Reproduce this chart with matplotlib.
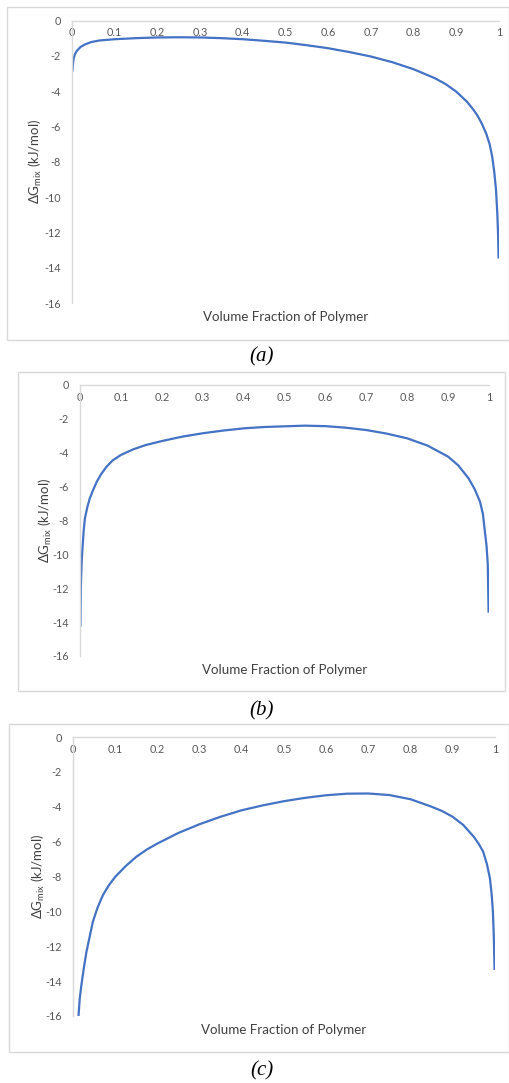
import matplotlib.pyplot as plt
from matplotlib.patches import Rectangle

plt.rcParams['font.family'] = ['Lato', 'DejaVu Sans']
plt.rcParams['mathtext.default'] = 'regular'
plt.rcParams['axes.unicode_minus'] = False

W, H = 510, 1083

# values
phi_a = [0.001, 0.002, 0.004, 0.007, 0.012, 0.02, 0.03, 0.045, 0.065, 0.1, 0.15, 0.2,
         0.25, 0.3, 0.35, 0.4, 0.45, 0.5, 0.55, 0.6, 0.65, 0.7, 0.75, 0.8, 0.85, 0.875,
         0.9, 0.925, 0.94, 0.95, 0.96, 0.97, 0.978, 0.984, 0.989, 0.993, 0.996, 0.998, 0.999]
dg_a = [-2.89, -2.5, -2.15, -1.9, -1.7, -1.5, -1.36, -1.22, -1.13, -1.06, -1.0, -0.96,
        -0.95, -0.96, -1.0, -1.06, -1.15, -1.25, -1.4, -1.57, -1.79, -2.04, -2.36, -2.76,
        -3.27, -3.6, -4.03, -4.6, -5.05, -5.4, -5.85, -6.4, -7.0, -7.7, -8.6, -9.6, -10.9,
        -12.2, -13.48]

phi_b = [0.001, 0.002, 0.004, 0.006, 0.009, 0.012, 0.018, 0.024, 0.032, 0.041, 0.052,
         0.065, 0.08, 0.1, 0.13, 0.16, 0.2, 0.25, 0.3, 0.35, 0.4, 0.45, 0.5, 0.55, 0.6,
         0.65, 0.7, 0.75, 0.8, 0.85, 0.9, 0.925, 0.95, 0.965, 0.978, 0.985, 0.99, 0.994,
         0.997, 0.999]
dg_b = [-14.27, -12.0, -10.5, -9.65, -8.6, -7.87, -7.2, -6.69, -6.2, -5.71, -5.25,
        -4.82, -4.45, -4.13, -3.8, -3.55, -3.31, -3.05, -2.85, -2.69, -2.56, -2.48, -2.44,
        -2.40, -2.43, -2.52, -2.66, -2.87, -3.15, -3.58, -4.23, -4.75, -5.51, -6.15, -6.89,
        -7.6, -8.66, -9.5, -10.6, -13.44]

phi_c = [0.013, 0.016, 0.02, 0.026, 0.032, 0.04, 0.047, 0.058, 0.071, 0.085, 0.1, 0.125,
         0.15, 0.175, 0.2, 0.25, 0.3, 0.35, 0.4, 0.45, 0.5, 0.55, 0.6, 0.65, 0.7, 0.75,
         0.8, 0.85, 0.875, 0.9, 0.925, 0.95, 0.962, 0.972, 0.981, 0.988, 0.992, 0.995,
         0.997, 0.999]
dg_c = [-16.0, -15.0, -14.2, -13.2, -12.3, -11.4, -10.6, -9.8, -9.06, -8.5, -8.02, -7.4,
        -6.87, -6.45, -6.11, -5.5, -5.0, -4.57, -4.2, -3.92, -3.68, -3.49, -3.34, -3.25,
        -3.24, -3.33, -3.57, -4.0, -4.25, -4.58, -5.05, -5.73, -6.15, -6.58, -7.3, -8.11,
        -9.0, -10.0, -11.3, -13.36]

x_ticks = [0, 0.1, 0.2, 0.3, 0.4, 0.5, 0.6, 0.7, 0.8, 0.9, 1]
x_labels = ['0', '0.1', '0.2', '0.3', '0.4', '0.5', '0.6', '0.7', '0.8', '0.9', '1']
y_ticks = [0, -2, -4, -6, -8, -10, -12, -14, -16]
captions = ['(a)', '(b)', '(c)']

panels = [
    # axes l, r, top, bottom ; box l, r, top, bottom ; ylabel x ; caption y
    dict(ax=(72, 499, 20.5, 303), box=(7.5, 509, 6.5, 340), ylx=35, cy=357, x=phi_a, y=dg_a),
    dict(ax=(80, 489, 385, 656), box=(17.5, 505, 372.5, 691), ylx=45, cy=711, x=phi_b, y=dg_b),
    dict(ax=(73, 495, 737, 1016), box=(9.5, 509, 723.5, 1052), ylx=38, cy=1071, x=phi_c, y=dg_c),
]

fig = plt.figure(figsize=(W / 100, H / 100), dpi=100)

for p, cap in zip(panels, captions):
    bl, br, bt, bb = p['box']
    fig.patches.append(Rectangle((bl / W, 1 - bb / H), (br - bl) / W, (bb - bt) / H,
                                 transform=fig.transFigure, fill=False,
                                 edgecolor='#d9d9d9', lw=1))
    l, r, t, b = p['ax']
    ax = fig.add_axes([l / W, 1 - b / H, (r - l) / W, (b - t) / H])
    ax.patch.set_alpha(0)
    ax.plot(p['x'], p['y'], color='#4472C4', lw=1.6, solid_capstyle='butt')
    ax.set_xlim(0, 1)
    ax.set_ylim(-16, 0)
    ax.spines['bottom'].set_position(('data', 0))
    ax.spines['top'].set_visible(False)
    ax.spines['right'].set_visible(False)
    for s in ('bottom', 'left'):
        ax.spines[s].set_color('#d9d9d9')
        ax.spines[s].set_linewidth(1)
    ax.set_xticks(x_ticks)
    ax.set_xticklabels(x_labels)
    ax.set_yticks(y_ticks)
    ax.tick_params(axis='both', length=0, labelsize=7.8, colors='#595959')
    ax.tick_params(axis='x', pad=5)
    ax.tick_params(axis='y', pad=8)
    ax.text(0.5, -14 / (b - t), 'Volume Fraction of Polymer', transform=ax.transAxes,
            ha='center', va='center', fontsize=9.6, color='#404040')
    fig.text(p['ylx'] / W, 1 - ((t + b) / 2) / H, 'ΔG$_{mix}$ (kJ/mol)', rotation=90,
             ha='center', va='center', fontsize=9.5, color='#404040')
    fig.text(262 / W, 1 - p['cy'] / H, cap, ha='center', va='center', fontsize=15,
             family='Liberation Serif', style='italic')

fig.savefig('out.png', dpi=100)
